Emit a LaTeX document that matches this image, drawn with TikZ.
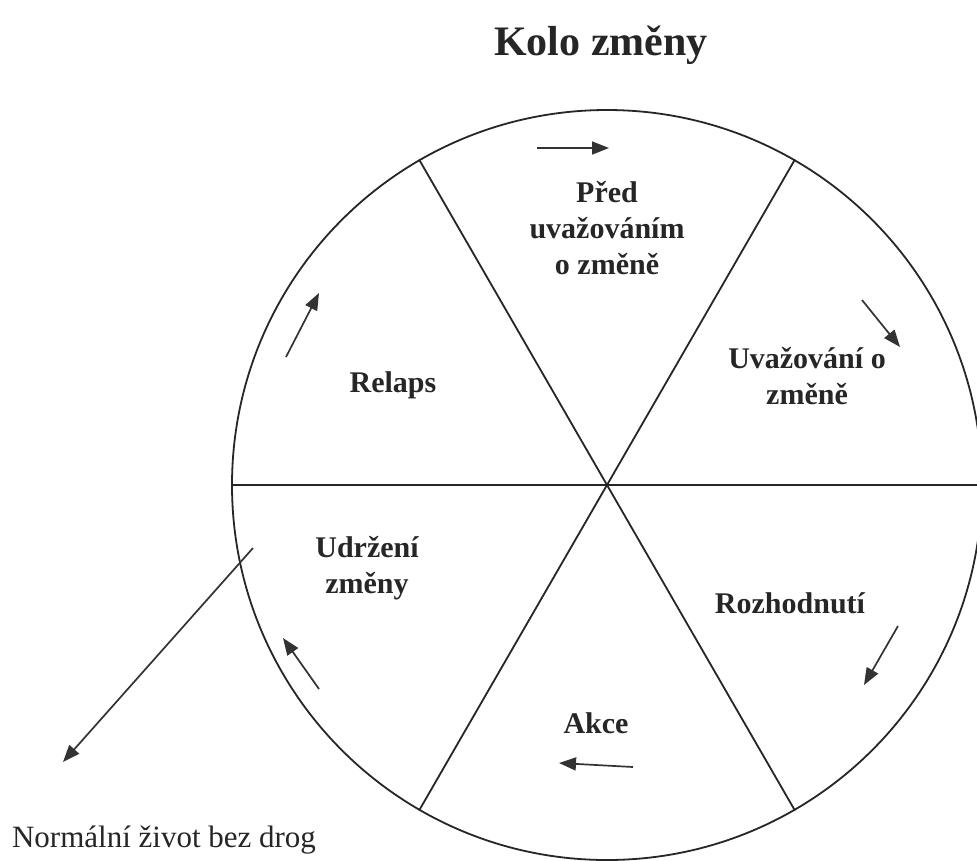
\documentclass[tikz,border=0pt]{standalone}
\usepackage{fontspec}
\setmainfont{Liberation Serif}
\usetikzlibrary{arrows.meta}
\begin{document}
\begin{tikzpicture}[x=1pt,y=-1pt,
  ln/.style={line width=1.8pt, draw=black!85},
  flow/.style={line width=1.7pt, draw=black!80, -{Triangle[length=17pt,width=13pt]}},
  lbl/.style={font=\fontsize{30}{36}\selectfont\bfseries, align=center, text=black!85, inner sep=0pt},
  ttl/.style={font=\fontsize{42}{50}\selectfont\bfseries, text=black!85, inner sep=0pt},
  plain/.style={font=\fontsize{31}{37}\selectfont, text=black!85, inner sep=0pt}]
\useasboundingbox[fill=white] (0,0) rectangle (977,860);
\node[ttl] (title) at (601,45) {Kolo změny};
\node[circle, ln, draw, minimum size=750pt, inner sep=0pt] (wheel) at (607,485) {};
\draw[ln] (wheel.180) -- (wheel.0);
\draw[ln] (wheel.120) -- (wheel.-60);
\draw[ln] (wheel.60) -- (wheel.-120);
% labels
\node[lbl] (pred) at (607,228) {Před\\uvažováním\\o změně};
\node[lbl] (uvaz) at (807,376) {Uvažování o\\změně};
\node[lbl] (relaps) at (393,385) {Relaps};
\node[lbl] (udrz) at (367,568) {Udržení\\změny};
\node[lbl] (rozh) at (790,603) {Rozhodnutí};
\node[lbl] (akce) at (596,723) {Akce};
\node[plain] (normal) at (164,840) {Normální život bez drog};
% direction arrows
\coordinate (a1s) at (537,148); \coordinate (a1e) at (609,148);
\coordinate (a2s) at (862,300); \coordinate (a2e) at (900,347);
\coordinate (a3s) at (898,626); \coordinate (a3e) at (864,685);
\coordinate (a4s) at (633,767); \coordinate (a4e) at (559,763);
\coordinate (a5s) at (319,689); \coordinate (a5e) at (283,638);
\coordinate (a6s) at (286,357); \coordinate (a6e) at (319,293);
\draw[flow] (a1s) -- (a1e);
\draw[flow] (a2s) -- (a2e);
\draw[flow] (a3s) -- (a3e);
\draw[flow] (a4s) -- (a4e);
\draw[flow] (a5s) -- (a5e);
\draw[flow] (a6s) -- (a6e);
\coordinate (exs) at (253,548); \coordinate (exe) at (63,762);
\draw[flow] (exs) -- (exe);
\end{tikzpicture}
\end{document}
